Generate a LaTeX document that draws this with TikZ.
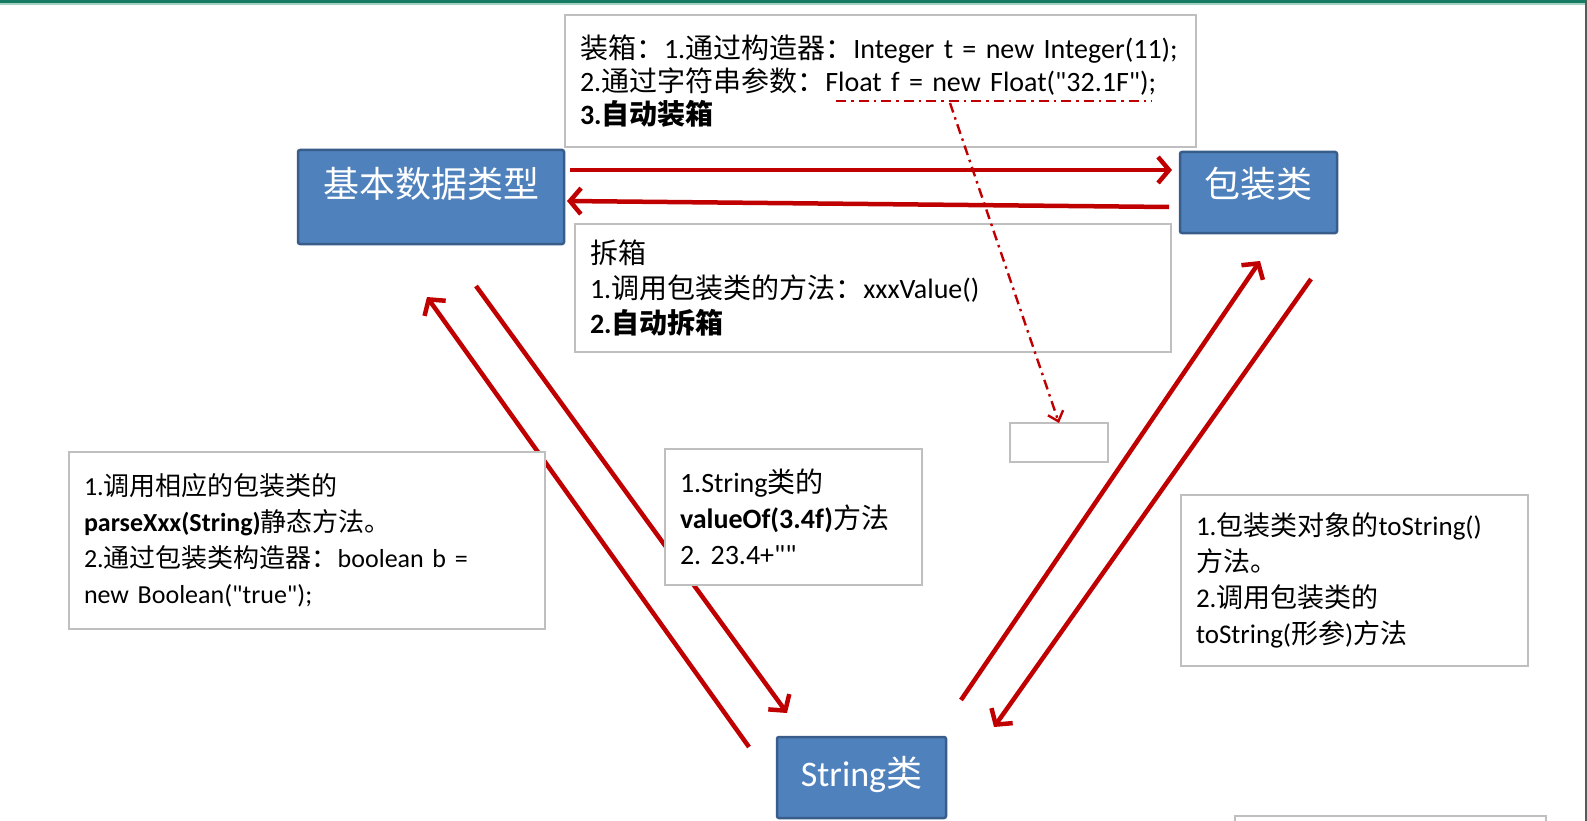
\documentclass[tikz,border=0pt]{standalone}
\usepackage{fontspec}
\setmainfont{Carlito}[Ligatures=TeXOff]
\newfontfamily\cjk{Noto Sans CJK SC}
\usetikzlibrary{calc,arrows.meta}
\definecolor{boxblue}{HTML}{4F81BD}
\definecolor{boxedge}{HTML}{385D8A}
\definecolor{convred}{HTML}{C00000}
\definecolor{notegray}{HTML}{BFBFBF}
\definecolor{bargreen}{HTML}{177A62}
\definecolor{barlight}{HTML}{A3D2C5}
\newcommand{\zh}[1]{{\cjk #1}}
\frenchspacing

\begin{document}
\begin{tikzpicture}[x=1pt,y=-1pt,
  typebox/.style={draw=boxedge,fill=boxblue,line width=2.5pt,rounded corners=2pt,text=white,
    font=\fontsize{36}{40}\selectfont,outer sep=0pt,anchor=north west},
  notebox/.style={draw=notegray,line width=1.8pt,fill=white,inner xsep=15pt,inner ysep=0pt,
    outer sep=0pt,align=left,anchor=north west,font=\fontsize{28}{36}\selectfont},
  conv/.style={draw=convred,line width=4.5pt,-{Straight Barb[length=11pt,width=26pt]}},
  hint/.style={draw=convred,line width=2.4pt,dash pattern=on 10pt off 5pt on 2.5pt off 5pt}]
  \useasboundingbox (0,0) rectangle (1587,821);
  \fill[white] (0,0) rectangle (1587,821);
  \fill[bargreen] (0,0) rectangle (1585,3.5);
  \fill[barlight] (0,3.5) rectangle (1585,5.5);
  \draw[gray!70!black,line width=1.5pt] (1586,0) -- (1586,821);

  \node[typebox,minimum width=266pt,minimum height=94pt] (base) at (298,150)
    {\raisebox{13pt}[\height][\depth]{\zh{基本数据类型}}};
  \node[typebox,minimum width=157pt,minimum height=81pt] (wrap) at (1180,152)
    {\raisebox{9pt}[\height][\depth]{\zh{包装类}}};
  \node[typebox,minimum width=169pt,minimum height=81pt] (str) at (777,737)
    {\raisebox{3pt}[\height][\depth]{String\zh{类}}};

  \draw[conv] ($(base.north east)+(6,20)$) -- ($(wrap.north west)+(-8,18)$);
  \draw[conv] ($(wrap.north west)+(-11,55)$) -- ($(base.north east)+(3,51)$);
  \draw[conv] ($(str.north west)+(-28,10)$) -- ($(base.south)+(-4,53)$);
  \draw[conv] ($(base.south)+(45,42)$) -- ($(str.north west)+(10,-24)$);
  \draw[conv] ($(str.north east)+(15,-37)$) -- ($(wrap.south)+(1.5,28)$);
  \draw[conv] ($(wrap.south)+(52.5,46)$) -- ($(str.north east)+(48,-10)$);

  \node[notebox,font=\fontsize{28}{33}\selectfont,text width=601pt,minimum height=132pt] (boxing) at (565,15)
    {\zh{装箱：}1.\zh{通过构造器：}Integer t = new Integer(11);\\
     2.\zh{通过字符串参数：}Float f = new Float("32.1F");\\
     \textbf{3.\zh{自动装箱}}};
  \node[notebox,font=\fontsize{28}{35}\selectfont,text width=566pt,minimum height=128pt] (unboxing) at (575,224)
    {\zh{拆箱}\\
     1.\zh{调用包装类的方法：}xxxValue()\\
     \textbf{2.\zh{自动拆箱}}};
  \node[notebox,font=\fontsize{26}{36}\selectfont,text width=446pt,minimum height=177pt] (parse) at (69,452)
    {1.\zh{调用相应的包装类的}\\
     \textbf{parseXxx(String)}\zh{静态方法。}\\
     2.\zh{通过包装类构造器：}boolean b =\\
     new Boolean("true");};
  \node[notebox,text width=227pt,minimum height=136pt] (valof) at (665,449)
    {1.String\zh{类的}\\
     \textbf{valueOf(3.4f)}\zh{方法}\\
     2. 23.4+""};
  \node[notebox,font=\fontsize{27}{36}\selectfont,text width=317pt,minimum height=171pt] (tostr) at (1181,495)
    {1.\zh{包装类对象的}toString()\\
     \zh{方法。}\\
     2.\zh{调用包装类的}\\
     toString(\zh{形参})\zh{方法}};
  \node[notebox,minimum width=98pt,minimum height=39pt] (blank) at (1010,423) {};
  \node[notebox,minimum width=311pt,minimum height=40pt] (more) at (1235,816) {};

  \coordinate (ulA) at (836,101);
  \coordinate (ulB) at (1152,101);
  \coordinate (ulM) at (950,103);
  \draw[hint] (ulA) -- (ulB);
  \draw[hint,-{Straight Barb[length=9pt,width=16pt]}] (ulM) -- (blank.north);
\end{tikzpicture}
\end{document}
